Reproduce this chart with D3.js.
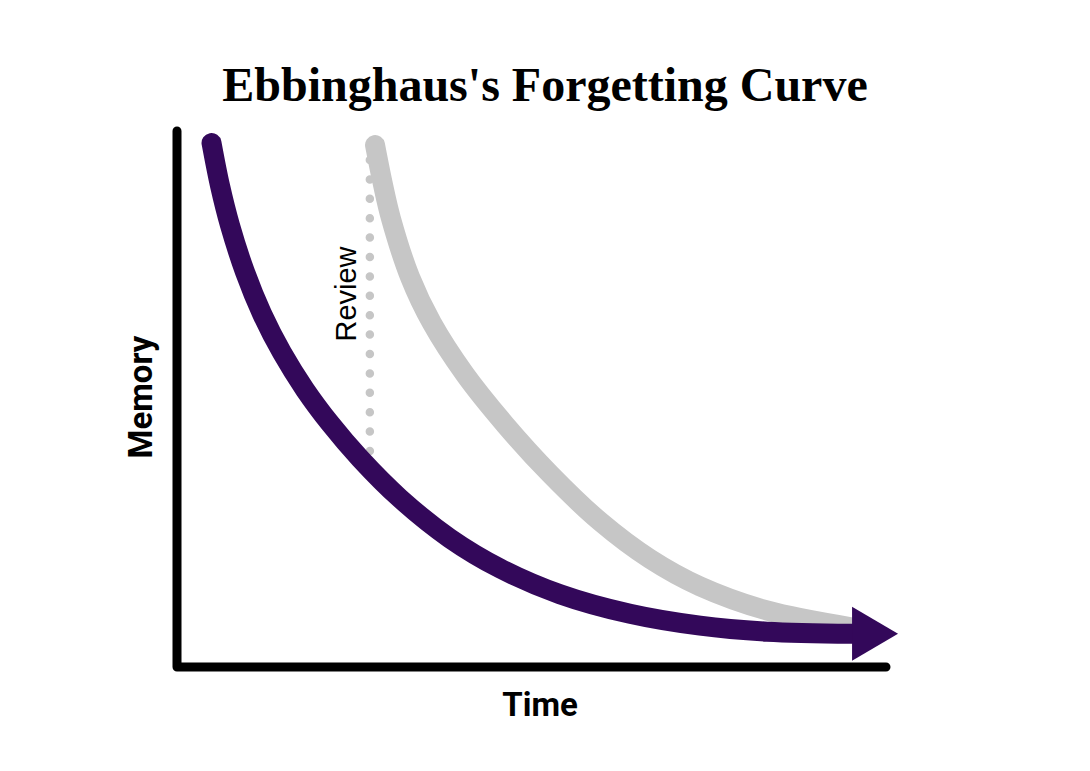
<!DOCTYPE html>
<html>
<head>
<meta charset="utf-8">
<script src="https://cdn.jsdelivr.net/npm/d3@7"></script>
<style>
  html, body { margin: 0; padding: 0; background: #fff; }
  svg { display: block; }
</style>
</head>
<body>
<svg id="chart" width="1090" height="771"></svg>
<script>
// ---- data ----
const titleText = "Ebbinghaus's Forgetting Curve";
const xLabel = "Time";
const yLabel = "Memory";
const reviewLabel = "Review";

// forgetting curve (no review)
const forgetTime   = [4.87, 6.06, 7.48, 9.59, 11.99, 14.81, 18.05, 21.58, 25.81, 31.45, 38.5, 45.56, 54.02, 63.89, 73.77, 83.22, 95.21];
const forgetMemory = [97.76, 89.83, 82.37, 73.69, 65.91, 58.64, 51.77, 45.47, 38.92, 31.46, 23.99, 18.4, 13.58, 9.93, 7.71, 6.59, 6.19];

// curve after review
const reviewTime   = [27.93, 29.06, 30.18, 32.86, 35.96, 40.62, 46.26, 52.61, 59.66, 66.71, 73.77, 83.22, 94.92];
const reviewMemory = [97.39, 89.93, 83.66, 72.76, 64.14, 54.59, 45.26, 36.03, 27.16, 20.17, 15.04, 10.54, 7.46];

const reviewAt = 27.2;            // time of review
const reviewFrom = [40.3, 98.1];  // memory range of the dotted review jump

// ---- layout ----
const svg = d3.select("#chart");
const x = d3.scaleLinear().domain([0, 100]).range([177, 886]);
const y = d3.scaleLinear().domain([0, 100]).range([667, 131]);

const purple = "#33085a";
const gray = "#c6c6c6";

// title
svg.append("text")
  .attr("x", 545).attr("y", 101)
  .attr("text-anchor", "middle")
  .style("font-family", "'Liberation Serif', 'DejaVu Serif', serif")
  .style("font-weight", "700")
  .style("font-size", "48px")
  .attr("fill", "#000")
  .text(titleText);

// axes
svg.append("path")
  .attr("d", d3.line()([[x(0), y(100)], [x(0), y(0)], [x(100), y(0)]]))
  .attr("fill", "none").attr("stroke", "#000").attr("stroke-width", 9)
  .attr("stroke-linecap", "round").attr("stroke-linejoin", "round");

// axis labels
svg.append("text")
  .attr("x", 540).attr("y", 716)
  .attr("text-anchor", "middle")
  .style("font-family", "Roboto, sans-serif").style("font-weight", "700")
  .style("font-size", "33px").attr("fill", "#000")
  .text(xLabel);

svg.append("text")
  .attr("transform", `translate(152, 397) rotate(-90)`)
  .attr("text-anchor", "middle")
  .style("font-family", "Roboto, sans-serif").style("font-weight", "700")
  .style("font-size", "33px").attr("fill", "#000")
  .text(yLabel);

// dotted review line
svg.append("path")
  .attr("d", d3.line()([[x(reviewAt), y(reviewFrom[0])], [x(reviewAt), y(reviewFrom[1])]]))
  .attr("fill", "none").attr("stroke", gray).attr("stroke-width", 8.5)
  .attr("stroke-linecap", "round").attr("stroke-dasharray", "0 19.4");

svg.append("text")
  .attr("transform", `translate(356, 294) rotate(-90)`)
  .attr("text-anchor", "middle")
  .style("font-family", "'Liberation Sans', Arial, sans-serif")
  .style("font-size", "29px").attr("fill", "#000")
  .text(reviewLabel);

const line = d3.line()
  .x(d => x(d[0])).y(d => y(d[1]))
  .curve(d3.curveCatmullRom.alpha(0.5));

// review curve (gray)
const grayPts = reviewTime.map((t, i) => [t, reviewMemory[i]]);
svg.append("path")
  .attr("d", line(grayPts))
  .attr("fill", "none").attr("stroke", gray).attr("stroke-width", 20)
  .attr("stroke-linecap", "round");

// forgetting curve (purple) with arrow head
const purplePts = forgetTime.map((t, i) => [t, forgetMemory[i]]);
svg.append("path")
  .attr("d", line(purplePts))
  .attr("fill", "none").attr("stroke", purple).attr("stroke-width", 20)
  .attr("stroke-linecap", "round");
const last = purplePts[purplePts.length - 1];
const ex = x(last[0]), ey = y(last[1]);
svg.append("path")
  .attr("d", `M${ex},${ey - 27} L${ex + 46},${ey} L${ex},${ey + 27} Z`)
  .attr("fill", purple);
</script>
</body>
</html>
